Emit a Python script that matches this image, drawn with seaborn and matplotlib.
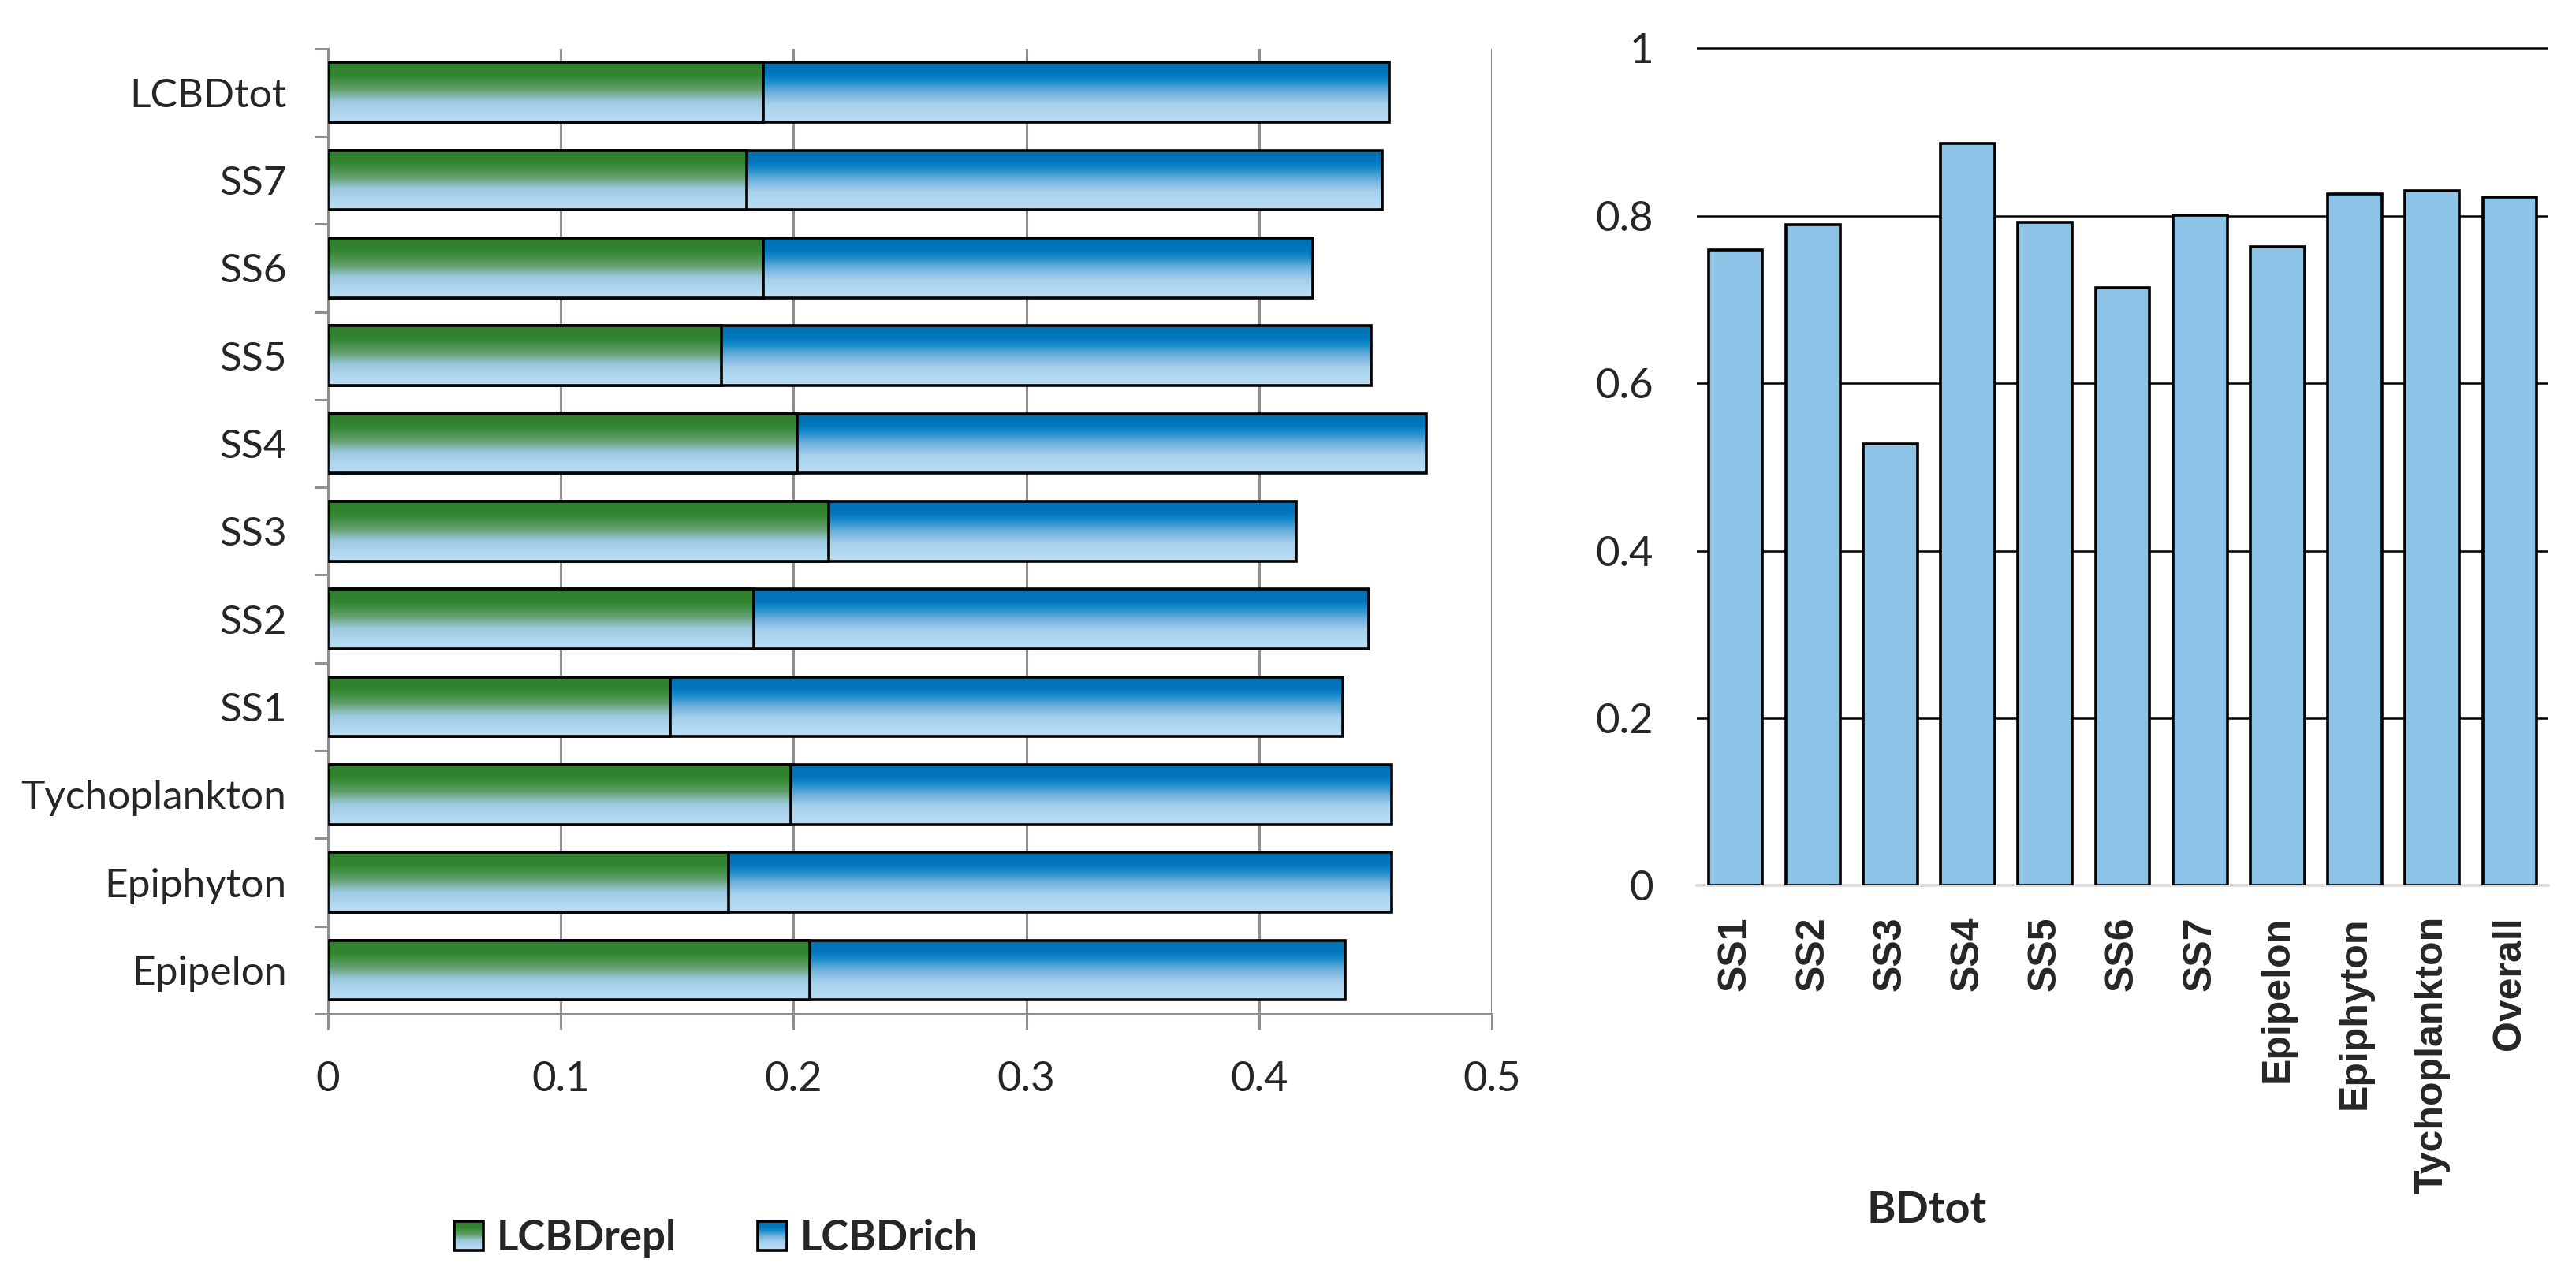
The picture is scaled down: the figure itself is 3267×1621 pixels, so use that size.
import numpy as np
import pandas as pd
import matplotlib
matplotlib.use("Agg")
import matplotlib.pyplot as plt
import seaborn as sns
from matplotlib.colors import LinearSegmentedColormap
from matplotlib.legend_handler import HandlerBase
from matplotlib.image import BboxImage
from matplotlib.transforms import Bbox, TransformedBbox
from matplotlib.patches import Rectangle

# ---------------- data ----------------
left_categories = ["LCBDtot", "SS7", "SS6", "SS5", "SS4", "SS3", "SS2", "SS1",
                   "Tychoplankton", "Epiphyton", "Epipelon"]
lcbd_repl = [0.187, 0.180, 0.187, 0.169, 0.2015, 0.215, 0.183, 0.147, 0.199, 0.172, 0.207]
lcbd_rich = [0.269, 0.273, 0.236, 0.279, 0.2705, 0.201, 0.264, 0.289, 0.258, 0.285, 0.230]
left_ticks = [0, 0.1, 0.2, 0.3, 0.4, 0.5]
left_tick_labels = ["0", "0.1", "0.2", "0.3", "0.4", "0.5"]

right_categories = ["SS1", "SS2", "SS3", "SS4", "SS5", "SS6", "SS7",
                    "Epipelon", "Epiphyton", "Tychoplankton", "Overall"]
bdtot = [0.759, 0.789, 0.528, 0.886, 0.792, 0.714, 0.801, 0.763, 0.826, 0.830, 0.822]
right_ticks = [0, 0.2, 0.4, 0.6, 0.8, 1.0]
right_tick_labels = ["0", "0.2", "0.4", "0.6", "0.8", "1"]

series_names = ["LCBDrepl", "LCBDrich"]
right_legend_name = "BDtot"

# ---------------- style ----------------
sns.set_theme(style="white")
plt.rcParams["font.family"] = ["Lato", "DejaVu Sans"]

GRAY = "#8F8F8F"
green_cmap = LinearSegmentedColormap.from_list(
    "g", [(0, "#2F7F2C"), (0.22, "#33852F"), (0.45, "#5F9F6B"),
          (0.65, "#9CC8DC"), (0.8, "#ACD4EE"), (1, "#BCDEF4")])
blue_cmap = LinearSegmentedColormap.from_list(
    "b", [(0, "#0070B5"), (0.2, "#0077BD"), (0.33, "#1E8ECC"),
          (0.5, "#6FB0DC"), (0.7, "#A6D1EE"), (1, "#BCDEF4")])

fig = plt.figure(figsize=(16.335, 8.105), dpi=200)
axL = fig.add_axes([0.12733, 0.20666, 0.45180, 0.75534])
axR = fig.add_axes([0.65870, 0.30691, 0.33058, 0.65670])

# ---------------- left panel ----------------
df = pd.DataFrame({"cat": left_categories, "repl": lcbd_repl, "rich": lcbd_rich})
df["total"] = df["repl"] + df["rich"]

sns.barplot(data=df, x="total", y="cat", order=left_categories, orient="h",
            color="#2E8FD0", width=0.68, edgecolor="black", linewidth=1.3,
            saturation=1, ax=axL)
n_blue = len(axL.patches)
sns.barplot(data=df, x="repl", y="cat", order=left_categories, orient="h",
            color="#5F9F6B", width=0.68, edgecolor="black", linewidth=1.3,
            saturation=1, ax=axL)

grad = np.linspace(0, 1, 256).reshape(-1, 1)


def add_gradient(ax, patch, cmap, z):
    x, y = patch.get_x(), patch.get_y()
    w, h = patch.get_width(), patch.get_height()
    im = ax.imshow(grad, cmap=cmap, aspect="auto", interpolation="bilinear",
                   extent=(x, x + w, y + h, y), origin="upper", zorder=z)
    im.set_clip_path(patch)
    patch.set_facecolor("none")
    patch.set_zorder(z + 0.5)


for i, p in enumerate(list(axL.patches)):
    if i < n_blue:
        add_gradient(axL, p, blue_cmap, 2)
    else:
        add_gradient(axL, p, green_cmap, 3)

axL.set_xlim(0, 0.5)
axL.set_ylim(10.5, -0.5)
axL.set_xticks(left_ticks)
axL.set_xticklabels(left_tick_labels)
axL.set_yticks(np.arange(-0.5, 11, 1), minor=True)
axL.set_xlabel("")
axL.set_ylabel("")
axL.set_axisbelow(True)
axL.xaxis.grid(True, color=GRAY, lw=1.1)
axL.yaxis.grid(False)
for s in ["top", "right"]:
    axL.spines[s].set_visible(False)
for s in ["left", "bottom"]:
    axL.spines[s].set_color(GRAY)
    axL.spines[s].set_linewidth(1.1)
axL.tick_params(axis="x", which="major", length=7.2, width=1.1, color=GRAY,
                direction="out", pad=14.5, labelsize=19, bottom=True)
axL.tick_params(axis="y", which="major", length=0, pad=18.9, labelsize=18.5)
axL.tick_params(axis="y", which="minor", length=6.1, width=1.1, color=GRAY,
                direction="out", left=True)

# legend with gradient swatches


class GradHandler(HandlerBase):
    def __init__(self, cmap):
        super().__init__()
        self.cmap = cmap

    def create_artists(self, legend, orig_handle, xdescent, ydescent,
                       width, height, fontsize, trans):
        s = height
        x0 = -xdescent + (width - s) / 2
        y0 = -ydescent
        bb = TransformedBbox(Bbox.from_bounds(x0, y0, s, s), trans)
        im = BboxImage(bb, cmap=self.cmap, interpolation="bilinear", origin="upper")
        im.set_data(grad)
        rect = Rectangle((x0, y0), s, s, facecolor="none", edgecolor="black",
                         lw=1.3, transform=trans)
        return [im, rect]


h_repl = Rectangle((0, 0), 1, 1)
h_rich = Rectangle((0, 0), 1, 1)
fig.legend([h_repl, h_rich], series_names,
           handler_map={h_repl: GradHandler(green_cmap), h_rich: GradHandler(blue_cmap)},
           loc="center", bbox_to_anchor=(0.278, 0.0314), ncol=2, frameon=False,
           prop={"family": ["Lato", "DejaVu Sans"], "weight": "bold", "size": 19},
           handlelength=0.7, handleheight=0.7, handletextpad=0.32,
           columnspacing=1.95, borderaxespad=0)

# ---------------- right panel ----------------
dfr = pd.DataFrame({"cat": right_categories, "val": bdtot})
sns.barplot(data=dfr, x="cat", y="val", order=right_categories, color="#8DC3E6",
            width=0.70, edgecolor="black", linewidth=1.3, saturation=1, ax=axR,
            zorder=3)
axR.set_ylim(0, 1.002)
axR.set_yticks(right_ticks)
axR.set_yticklabels(right_tick_labels)
axR.set_xlabel("")
axR.set_ylabel("")
axR.set_axisbelow(True)
axR.yaxis.grid(True, color="black", lw=0.9)
axR.xaxis.grid(False)
for s in ["top", "right", "left"]:
    axR.spines[s].set_visible(False)
axR.spines["bottom"].set_color("#D9D9D9")
axR.spines["bottom"].set_linewidth(1.3)
axR.tick_params(axis="y", length=0, pad=19.8, labelsize=19)
axR.tick_params(axis="x", length=0, pad=13.9)
for t in axR.get_xticklabels():
    t.set_rotation(90)
    t.set_fontfamily(["Liberation Sans", "DejaVu Sans"])
    t.set_fontweight("bold")
    t.set_fontsize(18)
    t.set_va("top")
    t.set_ha("center")

fig.text(0.748, 0.053, right_legend_name, ha="center", va="center",
         fontsize=20, fontweight="bold", family=["Lato", "DejaVu Sans"])

fig.savefig("out.png", dpi=200, facecolor="white")
